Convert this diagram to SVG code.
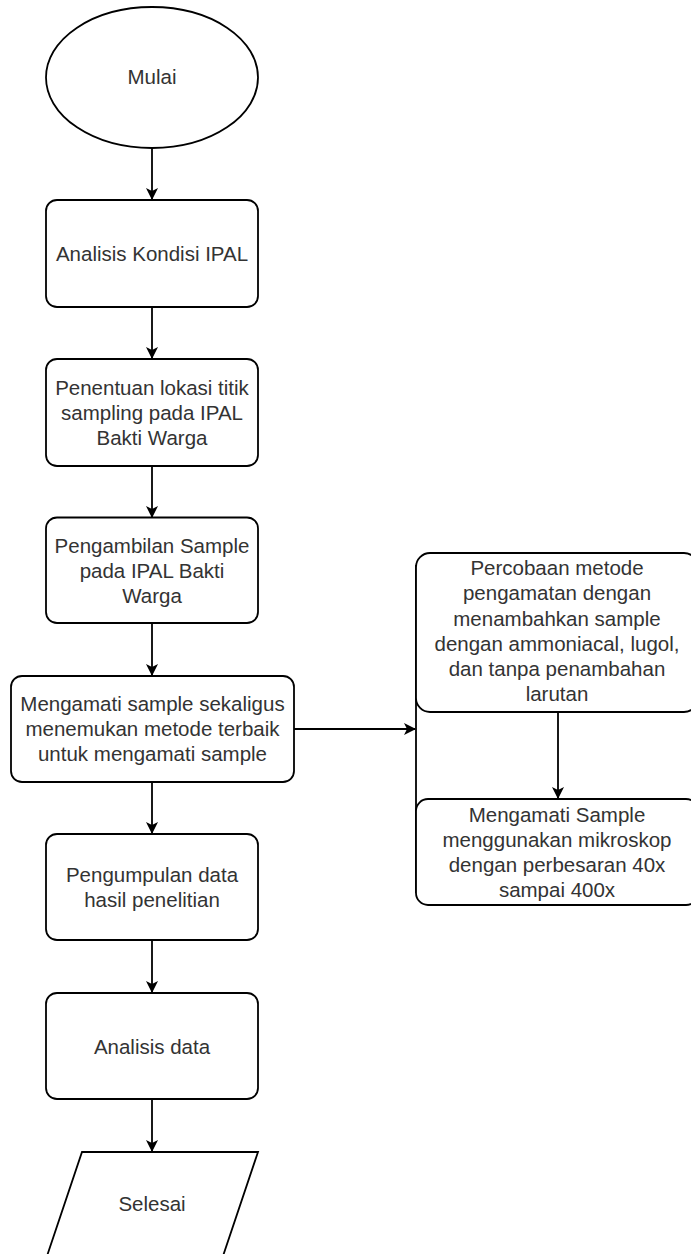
<svg xmlns="http://www.w3.org/2000/svg" width="691" height="1254" viewBox="0 0 691 1254">
<style>
.shape{fill:#fff;stroke:#000;stroke-width:1.8}
.lbl{font-family:"Liberation Sans",Arial,sans-serif;font-size:20.5px;fill:#333;text-anchor:middle}
.conn{fill:none;stroke:#000;stroke-width:1.8}
</style>
<defs>
<marker id="arr" viewBox="0 0 12 12" refX="11" refY="6" markerWidth="12" markerHeight="12" markerUnits="userSpaceOnUse" orient="auto">
<path d="M0,0 L12,6 L0,12 L3,6 Z" fill="#000"/>
</marker>
</defs>
<rect width="691" height="1254" fill="#fff"/>
<g id="connectors">
<line class="conn" x1="152" y1="148" x2="152" y2="199" marker-end="url(#arr)"/>
<line class="conn" x1="152" y1="307" x2="152" y2="358" marker-end="url(#arr)"/>
<line class="conn" x1="152" y1="466" x2="152" y2="517" marker-end="url(#arr)"/>
<line class="conn" x1="152" y1="623" x2="152" y2="675" marker-end="url(#arr)"/>
<line class="conn" x1="152" y1="782" x2="152" y2="833" marker-end="url(#arr)"/>
<line class="conn" x1="152" y1="940" x2="152" y2="992" marker-end="url(#arr)"/>
<line class="conn" x1="152" y1="1099" x2="152" y2="1151" marker-end="url(#arr)"/>
<line class="conn" x1="294" y1="729" x2="415" y2="729" marker-end="url(#arr)"/>
<line class="conn" x1="416" y1="565" x2="416" y2="893"/>
<line class="conn" x1="558" y1="712" x2="558" y2="798" marker-end="url(#arr)"/>
</g>
<g id="mulai">
<ellipse class="shape" cx="152" cy="77.5" rx="106" ry="70.5"/>
<text class="lbl" x="152" y="84">Mulai</text>
</g>
<g id="analisis-kondisi">
<rect class="shape" x="46" y="200" width="212" height="107" rx="11"/>
<text class="lbl" x="152" y="260.5">Analisis Kondisi IPAL</text>
</g>
<g id="penentuan">
<rect class="shape" x="46" y="359" width="212" height="107" rx="11"/>
<text class="lbl" x="152" y="394.5">Penentuan lokasi titik</text>
<text class="lbl" x="152" y="419.5">sampling pada IPAL</text>
<text class="lbl" x="152" y="444.5">Bakti Warga</text>
</g>
<g id="pengambilan">
<rect class="shape" x="46" y="517.5" width="212" height="105.5" rx="11"/>
<text class="lbl" x="152" y="552.5">Pengambilan Sample</text>
<text class="lbl" x="152" y="577.5">pada IPAL Bakti</text>
<text class="lbl" x="152" y="602.5">Warga</text>
</g>
<g id="mengamati">
<rect class="shape" x="11" y="676" width="283" height="106" rx="11"/>
<text class="lbl" x="152.5" y="711">Mengamati sample sekaligus</text>
<text class="lbl" x="152.5" y="736">menemukan metode terbaik</text>
<text class="lbl" x="152.5" y="761">untuk mengamati sample</text>
</g>
<g id="pengumpulan">
<rect class="shape" x="46" y="834" width="212" height="106" rx="11"/>
<text class="lbl" x="152" y="881.5">Pengumpulan data</text>
<text class="lbl" x="152" y="906.5">hasil penelitian</text>
</g>
<g id="analisis-data">
<rect class="shape" x="46" y="993" width="212" height="106" rx="11"/>
<text class="lbl" x="152" y="1053.5">Analisis data</text>
</g>
<g id="selesai">
<polygon class="shape" points="82,1152 258,1152 222,1259 46,1259"/>
<text class="lbl" x="152" y="1211">Selesai</text>
</g>
<g id="percobaan">
<rect class="shape" x="416" y="553" width="282" height="159" rx="14"/>
<text class="lbl" x="557" y="575">Percobaan metode</text>
<text class="lbl" x="557" y="600">pengamatan dengan</text>
<text class="lbl" x="557" y="625.5">menambahkan sample</text>
<text class="lbl" x="557" y="650.5">dengan ammoniacal, lugol,</text>
<text class="lbl" x="557" y="676">dan tanpa penambahan</text>
<text class="lbl" x="557" y="701">larutan</text>
</g>
<g id="mikroskop">
<rect class="shape" x="416" y="799" width="282" height="106" rx="12"/>
<text class="lbl" x="557" y="822">Mengamati Sample</text>
<text class="lbl" x="557" y="847">menggunakan mikroskop</text>
<text class="lbl" x="557" y="872">dengan perbesaran 40x</text>
<text class="lbl" x="557" y="897">sampai 400x</text>
</g>
</svg>
